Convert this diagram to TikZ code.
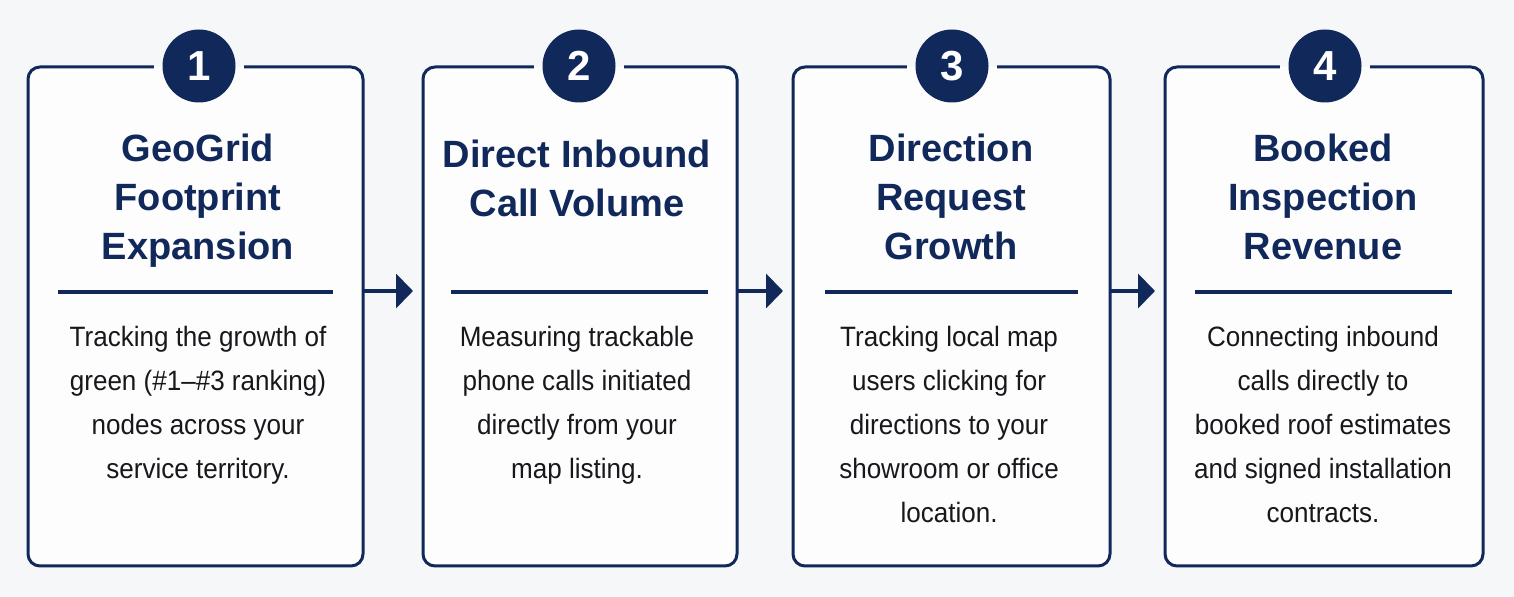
\documentclass[tikz,border=0pt]{standalone}
\usepackage{fontspec}
\setmainfont{Liberation Sans}
\newfontfamily\bodyfont[FakeStretch=0.93]{Liberation Sans}
\usetikzlibrary{arrows.meta,calc}
\definecolor{navy}{RGB}{16,40,90}
\definecolor{bgcol}{RGB}{246,247,249}
\definecolor{boxfill}{RGB}{253,253,254}
\definecolor{bodytxt}{RGB}{24,24,28}
\begin{document}
\begin{tikzpicture}[x=0.5pt,y=-0.5pt,
  card/.style={draw=navy, line width=1.5pt, rounded corners=6pt, fill=boxfill,
    minimum height=249.5pt, inner sep=0pt, outer sep=0pt},
  badge/.style={circle, fill=navy, minimum size=36.5pt,
    inner sep=0pt, text=white, font=\bfseries\fontsize{21}{21}\selectfont},
  title/.style={anchor=north, align=center, text=navy, inner sep=0pt,
    font=\bfseries\fontsize{19}{24.5}\selectfont},
  body/.style={anchor=north, align=center, text=bodytxt, inner sep=0pt,
    font=\bodyfont\fontsize{14}{22}\selectfont},
  sepline/.style={draw=navy, line width=1.75pt},
  flow/.style={draw=navy, line width=2pt, -{Triangle[length=8.5pt,width=17pt]}, shorten >=5pt}
]
\useasboundingbox (0,0) rectangle (1514,597);
\fill[bgcol] (0,0) rectangle (1514,597);

% cards
\node[card, minimum width=167.5pt] (b1) at (195.5,316.5) {};
\node[card, minimum width=157pt]   (b2) at (580,316.5) {};
\node[card, minimum width=158.5pt] (b3) at (951.5,316.5) {};
\node[card, minimum width=159pt]   (b4) at (1324,316.5) {};

% gaps in the top border around the badges
\foreach \cx in {199,579,952,1325}{
  \fill[bgcol] (\cx-45,63) rectangle (\cx+45,67);
  \fill[boxfill] (\cx-45,67) rectangle (\cx+45,71);
}

% badges
\node[badge] (n1) at (199,66) {1};
\node[badge] (n2) at (579,66) {2};
\node[badge] (n3) at (952,66) {3};
\node[badge] (n4) at (1325,66) {4};

% titles
\node[title] (t1) at (198,134) {GeoGrid\\Footprint\\Expansion};
\node[title] (t2) at (577,140) {Direct Inbound\\Call Volume};
\node[title] (t3) at (951,134) {Direction\\Request\\Growth};
\node[title] (t4) at (1323,134) {Booked\\Inspection\\Revenue};

% separators
\coordinate (s) at (0,292);
\draw[sepline] ($(b1.west |- s)+(15pt,0)$) -- ($(b1.east |- s)+(-15pt,0)$);
\draw[sepline] ($(b2.west |- s)+(14pt,0)$) -- ($(b2.east |- s)+(-14.5pt,0)$);
\draw[sepline] ($(b3.west |- s)+(16pt,0)$) -- ($(b3.east |- s)+(-16pt,0)$);
\draw[sepline] ($(b4.west |- s)+(15pt,0)$) -- ($(b4.east |- s)+(-15.5pt,0)$);

% body texts
\node[body] (d1) at (198,326) {Tracking the growth of\\green (\#1–\#3 ranking)\\nodes across your\\service territory.};
\node[body] (d2) at (577,326) {Measuring trackable\\phone calls initiated\\directly from your\\map listing.};
\node[body] (d3) at (949,326) {Tracking local map\\users clicking for\\directions to your\\showroom or office\\location.};
\node[body] (d4) at (1323,326) {Connecting inbound\\calls directly to\\booked roof estimates\\and signed installation\\contracts.};

% arrows
\coordinate (a) at (0,291);
\draw[flow] (b1.east |- a) -- (b2.west |- a);
\draw[flow] (b2.east |- a) -- (b3.west |- a);
\draw[flow] (b3.east |- a) -- (b4.west |- a);
\end{tikzpicture}
\end{document}
